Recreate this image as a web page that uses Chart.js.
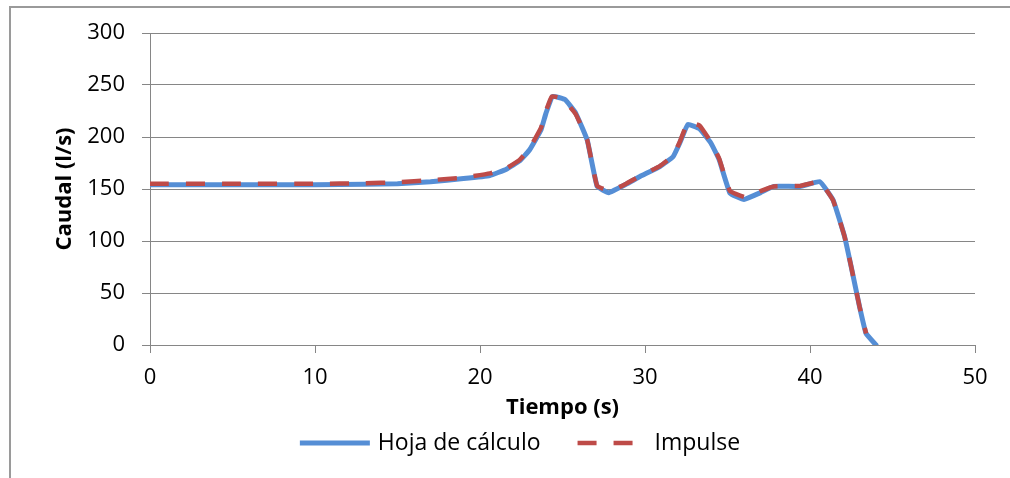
<!DOCTYPE html>
<html>
<head>
<meta charset="utf-8">
<script src="https://cdn.jsdelivr.net/npm/chart.js@4.4.0/dist/chart.umd.min.js"></script>
<style>
  html, body { margin: 0; padding: 0; background: #ffffff; }
  #wrap { position: relative; width: 1010px; height: 478px; }
  canvas { display: block; }
</style>
</head>
<body>
<div id="wrap"><canvas id="c" width="1010" height="478"></canvas></div>
<script>
// ---- data ----
const seriesNames = ['Hoja de cálculo', 'Impulse'];

const timeHoja = [0, 5, 10, 13, 15, 17, 19, 20.6, 21.6, 22.4, 23, 23.7, 24.0, 24.4, 25.15, 25.8, 26.5, 27.1, 27.8, 28.9, 29.7, 30.9, 31.7, 32.1, 32.6, 33.3, 34.0, 34.5, 35.15, 36.0, 37.0, 37.8, 39.4, 40.6, 41.4, 42.1, 42.5, 43.0, 43.4, 44.0];
const flowHoja = [154, 154, 154, 154.5, 155, 157, 160, 163, 169, 177, 187.5, 207, 223, 239, 236, 223, 197, 152.5, 146.5, 155, 162, 171.5, 181, 194, 212, 208, 194, 178, 146, 140, 146.5, 152.5, 152.5, 157, 139.5, 104, 75, 37, 11, 0];

const timeImpulse = [0, 5, 10, 13, 15, 17, 19, 20.6, 21.6, 22.4, 23, 23.7, 24.0, 24.35, 25.0, 25.8, 26.5, 27.1, 27.9, 28.9, 29.7, 30.9, 31.7, 32.1, 32.6, 33.3, 34.0, 34.5, 35.15, 36.1, 37.0, 37.8, 39.4, 40.6, 41.4, 42.1, 42.5, 43.0, 43.4];
const flowImpulse = [155, 155, 155, 155.5, 156.5, 158.5, 161, 165, 170, 178, 189, 209, 225, 239, 237, 222, 197, 153, 148, 155.5, 162.5, 172, 182, 195, 214, 211, 195, 179, 148, 142, 148, 152.5, 153, 157, 139, 104, 75, 37, 11];

const xTicksMin = 0, xTicksMax = 50, xStep = 10;
const yTicksMin = 0, yTicksMax = 300, yStep = 50;
const xTitle = 'Tiempo (s)';
const yTitle = 'Caudal (l/s)';

// ---- styles ----
const FONT = '"Open Sans", "Noto Sans", sans-serif';
const GRID = '#868686';
const BLUE = '#558ED5';
const RED = '#BE4B48';

function pts(xs, ys) { return xs.map((x, i) => ({ x: x, y: ys[i] })); }

const framePlugin = {
  id: 'frame',
  beforeDraw(chart) {
    const ctx = chart.ctx;
    ctx.save();
    ctx.strokeStyle = '#9a9a9a';
    ctx.lineWidth = 2;
    ctx.beginPath();
    ctx.moveTo(10, 478);
    ctx.lineTo(10, 7);
    ctx.lineTo(1010, 7);
    ctx.stroke();
    ctx.restore();
  }
};

const legendPlugin = {
  id: 'customLegend',
  afterDraw(chart) {
    const ctx = chart.ctx;
    const ds = chart.data.datasets;
    const order = [0, 1];
    ctx.save();
    ctx.font = '23px ' + FONT;
    ctx.textBaseline = 'middle';
    ctx.textAlign = 'left';
    const keyW = 70, keyGap = [8, 7], itemGap = 37;
    let total = 0;
    order.forEach((i, k) => {
      total += keyW + keyGap[k] + ctx.measureText(ds[i].label).width;
      if (k < order.length - 1) total += itemGap;
    });
    let x = 520 - total / 2;
    const y = 443;
    order.forEach((i, k) => {
      const d = ds[i];
      ctx.strokeStyle = d.borderColor;
      ctx.lineWidth = d.borderWidth;
      ctx.lineCap = 'butt';
      ctx.setLineDash(d.borderDash || []);
      ctx.beginPath();
      ctx.moveTo(x, y);
      ctx.lineTo(x + keyW, y);
      ctx.stroke();
      ctx.setLineDash([]);
      x += keyW + keyGap[k];
      ctx.fillStyle = '#000';
      ctx.fillText(d.label, x, y);
      x += ctx.measureText(d.label).width + itemGap;
    });
    ctx.restore();
  }
};

new Chart(document.getElementById('c'), {
  type: 'scatter',
  data: {
    datasets: [
      {
        label: seriesNames[0],
        data: pts(timeHoja, flowHoja),
        showLine: true,
        borderColor: BLUE,
        backgroundColor: BLUE,
        borderWidth: 5,
        pointRadius: 0,
        tension: 0.1,
        borderJoinStyle: 'round',
        borderCapStyle: 'round',
        order: 1
      },
      {
        label: seriesNames[1],
        data: pts(timeImpulse, flowImpulse),
        showLine: true,
        borderColor: RED,
        backgroundColor: RED,
        borderWidth: 4.5,
        borderDash: [19, 17],
        borderCapStyle: 'butt',
        pointRadius: 0,
        tension: 0.1,
        order: 0
      }
    ]
  },
  options: {
    responsive: false,
    animation: false,
    events: [],
    layout: { padding: { left: 50, right: 35, top: 33, bottom: 53 } },
    plugins: {
      legend: { display: false },
      tooltip: { enabled: false }
    },
    scales: {
      x: {
        type: 'linear',
        min: xTicksMin, max: xTicksMax,
        ticks: { stepSize: xStep, color: '#000', font: { family: FONT, size: 22 }, padding: 12, maxRotation: 0 },
        grid: { drawOnChartArea: false, drawTicks: true, tickLength: 8, color: GRID, lineWidth: 1 },
        border: { display: true, color: GRID, width: 1 },
        title: { display: true, text: xTitle, color: '#000', font: { family: FONT, size: 22, weight: 'bold' }, padding: { top: 0, bottom: 4 } },
        afterFit(s) { s.height = 80; }
      },
      y: {
        type: 'linear',
        min: yTicksMin, max: yTicksMax,
        ticks: { stepSize: yStep, color: '#000', font: { family: FONT, size: 22 }, padding: 17 },
        grid: { drawOnChartArea: true, drawTicks: true, tickLength: 8, color: GRID, lineWidth: 1 },
        border: { display: true, color: GRID, width: 1 },
        title: { display: true, text: yTitle, color: '#000', font: { family: FONT, size: 22, weight: 'bold' }, padding: { top: 2, bottom: 0 } },
        afterFit(s) { s.width = 100; }
      }
    }
  },
  plugins: [framePlugin, legendPlugin]
});
</script>
</body>
</html>
